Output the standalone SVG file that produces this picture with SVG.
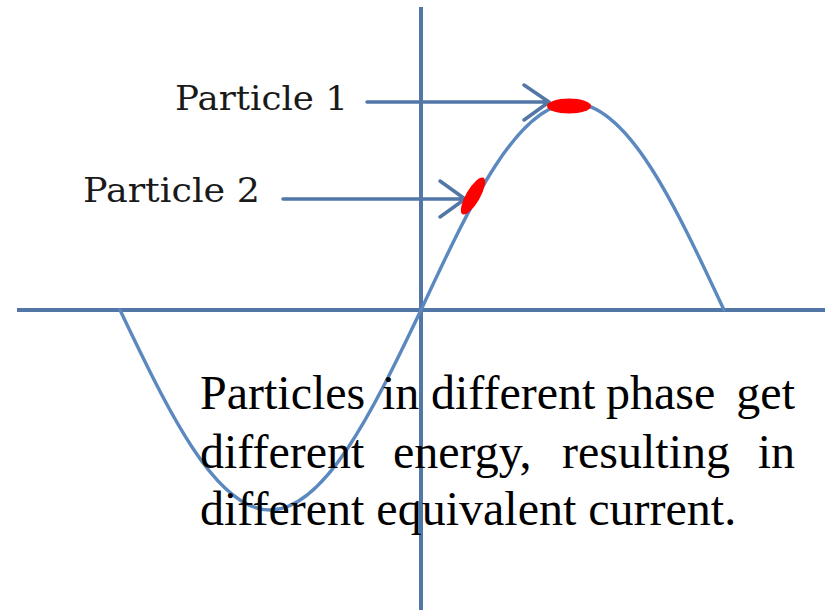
<svg xmlns="http://www.w3.org/2000/svg" width="825" height="610" viewBox="0 0 825 610">
<style>
.axis{stroke:#5277a6;stroke-width:4;fill:none}
.wave{stroke:#5b88bf;stroke-width:3.4;fill:none;stroke-linecap:round}
.arr{stroke:#5277a6;stroke-width:3.5;fill:none;stroke-linecap:round;stroke-linejoin:round}
.lbl{font-family:"DejaVu Serif","Liberation Serif",serif;font-size:33px;fill:#1a1a1a}
.body{font-family:"Liberation Serif",serif;font-size:48px;fill:#000}
.dot{fill:#ff0000}
</style>
<rect width="825" height="610" fill="#fff"/>
<g id="axes">
<line class="axis" x1="17" y1="310" x2="825" y2="310"/>
<line class="axis" x1="421" y1="7" x2="421" y2="610"/>
</g>
<g id="wave">
<path class="wave" d="M120,310 C168.9,412.5 215.7,510 270,510 C324.3,510 372.1,412.5 421,310 C470.4,204 517.7,103 572.5,103 C627.3,103 674.6,204 724,310"/>
</g>
<g id="connectors">
<path class="arr" d="M367,102 L549,102 M524,85 L549,102 L524,120"/>
<path class="arr" d="M283,199 L465,199 M440,181 L465,199 L440,217"/>
</g>
<g id="particle1">
<text class="lbl" x="175" y="110" textLength="173" lengthAdjust="spacingAndGlyphs">Particle 1</text>
<ellipse class="dot" cx="569" cy="106" rx="22" ry="7.5"/>
</g>
<g id="particle2">
<text class="lbl" x="83" y="202" textLength="177" lengthAdjust="spacingAndGlyphs">Particle 2</text>
<ellipse class="dot" cx="473" cy="196" rx="21" ry="7" transform="rotate(-60 473 196)"/>
</g>
<g id="caption" class="body">
<text x="200" y="409">Particles</text>
<text x="382" y="409">in</text>
<text x="431" y="409">different</text>
<text x="606" y="409">phase</text>
<text x="795" y="409" text-anchor="end">get</text>
<text x="200" y="468">different</text>
<text x="393" y="468">energy,</text>
<text x="562" y="468">resulting</text>
<text x="795" y="468" text-anchor="end">in</text>
<text x="200" y="525">different equivalent current.</text>
</g>
</svg>
